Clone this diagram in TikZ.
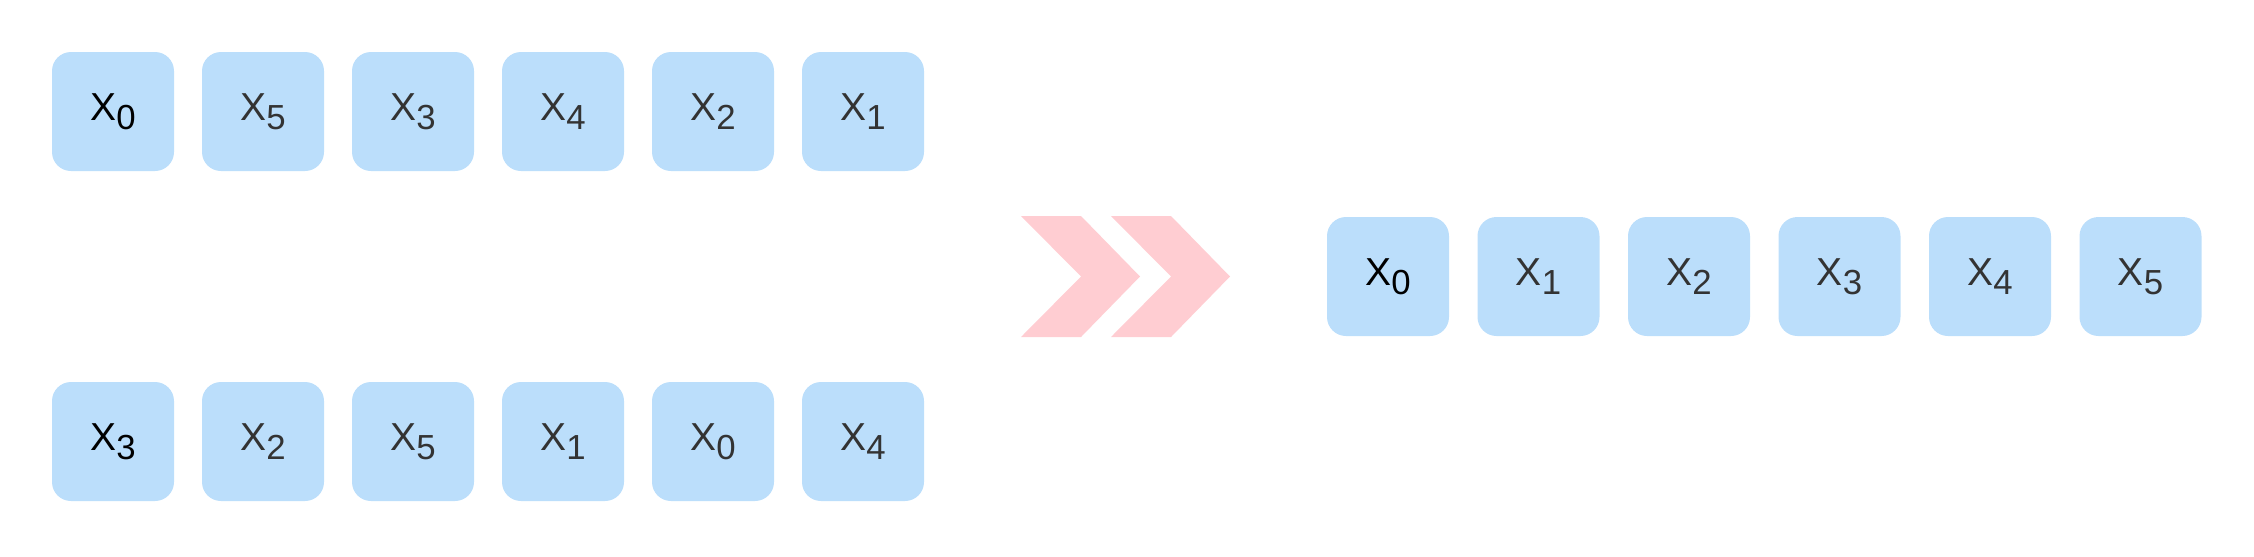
\documentclass[tikz,border=0pt]{standalone}
\usepackage{fontspec}
\setmainfont{Liberation Sans}
\usepackage{xcolor}
\usepackage{tikz}
\usetikzlibrary{positioning}
\definecolor{cellblue}{HTML}{BBDEFB}
\definecolor{chevpink}{HTML}{FFCDD2}
\definecolor{txtgray}{HTML}{333333}
\newcommand{\xsub}[1]{X\raisebox{-2.6pt}{\fontsize{9.9}{10}\selectfont #1}}

\begin{document}
\begin{tikzpicture}[
  cell/.style={fill=cellblue,rounded corners=0.19cm,minimum width=1.22cm,minimum height=1.19cm,
               inner sep=0pt,text=txtgray,font=\fontsize{11.1}{12}\selectfont},
  first/.style={cell,text=black},
  chev/.style={fill=chevpink}]
\useasboundingbox (0,0) rectangle (22.54,5.56);
% input order A
\node[first] (a0) at (1.13,4.445) {\xsub{0}};
\node[cell]  (a1) at (2.63,4.445) {\xsub{5}};
\node[cell]  (a2) at (4.13,4.445) {\xsub{3}};
\node[cell]  (a3) at (5.63,4.445) {\xsub{4}};
\node[cell]  (a4) at (7.13,4.445) {\xsub{2}};
\node[cell]  (a5) at (8.63,4.445) {\xsub{1}};
% input order B
\node[first] (b0) at (1.13,1.145) {\xsub{3}};
\node[cell]  (b1) at (2.63,1.145) {\xsub{2}};
\node[cell]  (b2) at (4.13,1.145) {\xsub{5}};
\node[cell]  (b3) at (5.63,1.145) {\xsub{1}};
\node[cell]  (b4) at (7.13,1.145) {\xsub{0}};
\node[cell]  (b5) at (8.63,1.145) {\xsub{4}};
% sorted
\node[first] (s0) at (13.88,2.795) {\xsub{0}};
\node[cell]  (s1) at (15.385,2.795) {\xsub{1}};
\node[cell]  (s2) at (16.89,2.795) {\xsub{2}};
\node[cell]  (s3) at (18.395,2.795) {\xsub{3}};
\node[cell]  (s4) at (19.90,2.795) {\xsub{4}};
\node[cell]  (s5) at (21.405,2.795) {\xsub{5}};
% chevrons
\fill[chev] (10.21,3.40) -- (10.81,3.40) -- (11.40,2.795) -- (10.81,2.19) -- (10.21,2.19) -- (10.81,2.795) -- cycle;
\fill[chev] (11.11,3.40) -- (11.71,3.40) -- (12.30,2.795) -- (11.71,2.19) -- (11.11,2.19) -- (11.71,2.795) -- cycle;
\end{tikzpicture}
\end{document}
